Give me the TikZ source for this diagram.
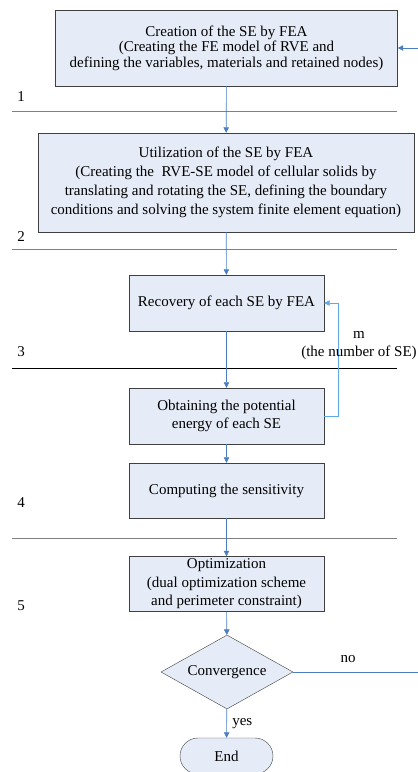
\documentclass[tikz,border=0pt]{standalone}
\usepackage{fontspec}
\setmainfont{Liberation Serif}
\usetikzlibrary{positioning,calc,arrows.meta,shapes.geometric,shapes.misc}
\definecolor{boxfill}{RGB}{230,236,247}
\definecolor{flowblue}{RGB}{74,126,193}
\definecolor{loopblue}{RGB}{96,170,226}
\definecolor{sepgray}{RGB}{128,128,128}

\begin{document}
\begin{tikzpicture}[x=1pt,y=-1pt,font=\fontsize{15}{19}\selectfont,
  stage/.style={draw=black!75,fill=boxfill,inner sep=0,align=center},
  flow/.style={-{Triangle[length=5.5pt,width=5.5pt]},flowblue,semithick},
  sep/.style={sepgray,semithick}]

  \useasboundingbox (0,0) rectangle (418,772);

  % ---- stages ----
  \node[stage,minimum width=342,minimum height=76,font=\fontsize{15}{15.5}\selectfont] (b1) at (226.5,48)
    {Creation of the SE by FEA\\(Creating the FE model of RVE and\\defining the variables, materials and retained nodes)};
  \node[stage,minimum width=376,minimum height=99] (b2) at (226,182.5)
    {Utilization of the SE by FEA\\(Creating the\ \ RVE-SE model of cellular solids by\\translating and rotating the SE, defining the boundary\\conditions and solving the system finite element equation)};
  \node[stage,minimum width=195,minimum height=56] (b3) at (226.5,303) {Recovery of each SE by FEA};
  \node[stage,minimum width=195,minimum height=56,font=\fontsize{15}{18}\selectfont] (b4) at (226.5,416)
    {Obtaining the potential\\energy of each SE};
  \node[stage,minimum width=195,minimum height=55] (b5) at (226.5,490.5) {Computing the sensitivity};
  \node[stage,minimum width=195,minimum height=55,font=\fontsize{15}{18.5}\selectfont] (b6) at (226.5,584)
    {Optimization\\(dual optimization scheme\\and perimeter constraint)};
  \node[stage,diamond,aspect=1.8,minimum width=132,minimum height=74] (conv) at (227,672) {Convergence};
  \node[stage,rounded rectangle,minimum width=93,minimum height=36] (end) at (226.5,756) {End};

  % ---- step numbers and separators ----
  \foreach \n/\y in {1/97,2/237,3/352,4/503,5/606}
    \node (lab\n) at (21,\y) {\n};
  \foreach \y/\c in {111/sepgray,249/sepgray,368/black,538/sepgray}
    \draw[sep,draw=\c] (12,\y)--(397,\y);

  % ---- flow ----
  \draw[flow] (b1)--(b2);
  \draw[flow] (b2)--(b3);
  \draw[flow] (b3)--(b4);
  \draw[flow] (b4)--(b5);
  \draw[flow] (b5)--(b6);
  \draw[flow] (b6)--(conv);
  \draw[flow] (conv)--(end) node[midway,right=2pt,text=black] (yes) {yes};

  % loop over the SE
  \draw[flow,loopblue] (b4.east)--++(14,0) |- (b3.east);
  \node[align=center,font=\fontsize{15}{18}\selectfont] (mlab) at (359,346) {m\\(the number of SE)};

  % back to the start
  \coordinate (back) at (432,48);
  \draw[flow] (conv.east) -| (back) -- (b1.east);
  \node (no) at (348,659) {no};

\end{tikzpicture}
\end{document}
